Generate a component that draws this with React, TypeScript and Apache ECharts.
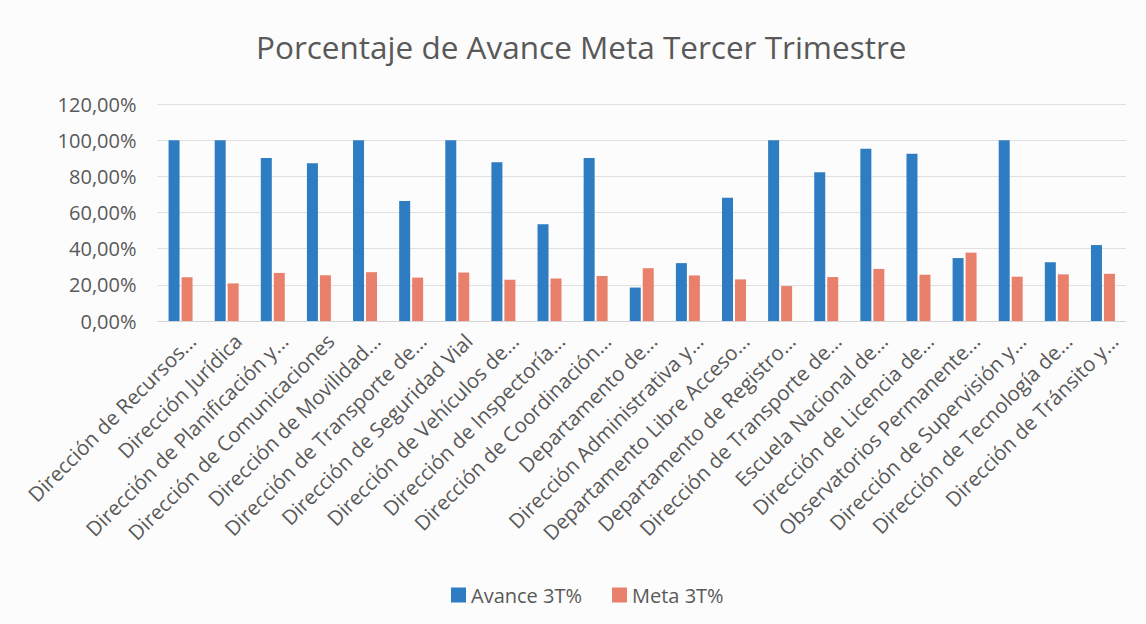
import React, { useEffect, useRef } from "react";
import * as echarts from "echarts";

const categories: string[] = [
  "Dirección de Recursos...",
  "Dirección Jurídica",
  "Dirección de Planificación y...",
  "Dirección de Comunicaciones",
  "Dirección de Movilidad...",
  "Dirección de Transporte de...",
  "Dirección de Seguridad Vial",
  "Dirección de Vehículos de...",
  "Dirección de Inspectoría...",
  "Dirección de Coordinación...",
  "Departamento de...",
  "Dirección Administrativa y...",
  "Departamento Libre Acceso...",
  "Departamento de Registro...",
  "Dirección de Transporte de...",
  "Escuela Nacional de...",
  "Dirección de Licencia de...",
  "Observatorios Permanente...",
  "Dirección de Supervisión y...",
  "Dirección de Tecnología de...",
  "Dirección de Tránsito y...",
];

const avance: number[] = [
  100, 100, 90.2, 87.2, 100, 66.3, 100, 87.8, 53.5, 90.2, 18.5, 32.0, 68.2, 100,
  82.3, 95.2, 92.5, 34.8, 100, 32.5, 42.0,
];

const meta: number[] = [
  24.2, 20.8, 26.6, 25.3, 27.0, 24.0, 26.8, 22.8, 23.5, 24.9, 29.2, 25.2, 23.0,
  19.3, 24.3, 28.8, 25.6, 37.8, 24.5, 25.8, 26.1,
];

const seriesNames: string[] = ["Avance 3T%", "Meta 3T%"];
const titleText = "Porcentaje de Avance Meta Tercer Trimestre";

const FONT = "'Open Sans', 'Noto Sans', sans-serif";
const TEXT = "#595959";

export default function App() {
  const ref = useRef<HTMLDivElement>(null);

  useEffect(() => {
    if (!ref.current) return;
    const chart = echarts.init(ref.current, undefined, { renderer: "svg" });
    chart.setOption({
      animation: false,
      backgroundColor: "#fcfcfc",
      textStyle: { fontFamily: FONT },
      title: {
        text: titleText,
        left: 256,
        top: 30,
        padding: 0,
        textStyle: {
          fontFamily: FONT,
          fontSize: 31.5,
          fontWeight: "normal",
          color: TEXT,
        },
      },
      legend: {
        data: seriesNames,
        left: 446,
        top: 580,
        itemWidth: 15,
        itemHeight: 15,
        itemGap: 30,
        icon: "rect",
        textStyle: { fontFamily: FONT, fontSize: 20, color: TEXT },
      },
      grid: {
        left: 157.5,
        right: 20,
        top: 104,
        bottom: 303,
        containLabel: false,
      },
      xAxis: {
        type: "category",
        data: categories,
        axisLine: { show: true, lineStyle: { color: "#d4d4d4", width: 1 } },
        axisTick: { show: false },
        axisLabel: {
          interval: 0,
          rotate: 45,
          margin: 5,
          verticalAlign: "top",
          lineHeight: 32,
          fontFamily: FONT,
          fontSize: 20.5,
          color: TEXT,
        },
      },
      yAxis: {
        type: "value",
        min: 0,
        max: 120,
        interval: 20,
        axisLine: { show: false },
        axisTick: { show: false },
        splitLine: { lineStyle: { color: "#e0e0e0", width: 1 } },
        axisLabel: {
          margin: 21,
          fontFamily: FONT,
          fontSize: 20,
          color: TEXT,
          formatter: (v: number) => v.toFixed(2).replace(".", ",") + "%",
        },
      },
      series: [
        {
          name: seriesNames[0],
          type: "bar",
          data: avance,
          barWidth: 11,
          barGap: "18%",
          itemStyle: { color: "#2e7dc2" },
        },
        {
          name: seriesNames[1],
          type: "bar",
          data: meta,
          barWidth: 11,
          itemStyle: { color: "#e8806b" },
        },
      ],
    });
    return () => chart.dispose();
  }, []);

  return (
    <div
      ref={ref}
      style={{ position: "fixed", left: 0, top: 0, width: 1146, height: 624 }}
    />
  );
}
